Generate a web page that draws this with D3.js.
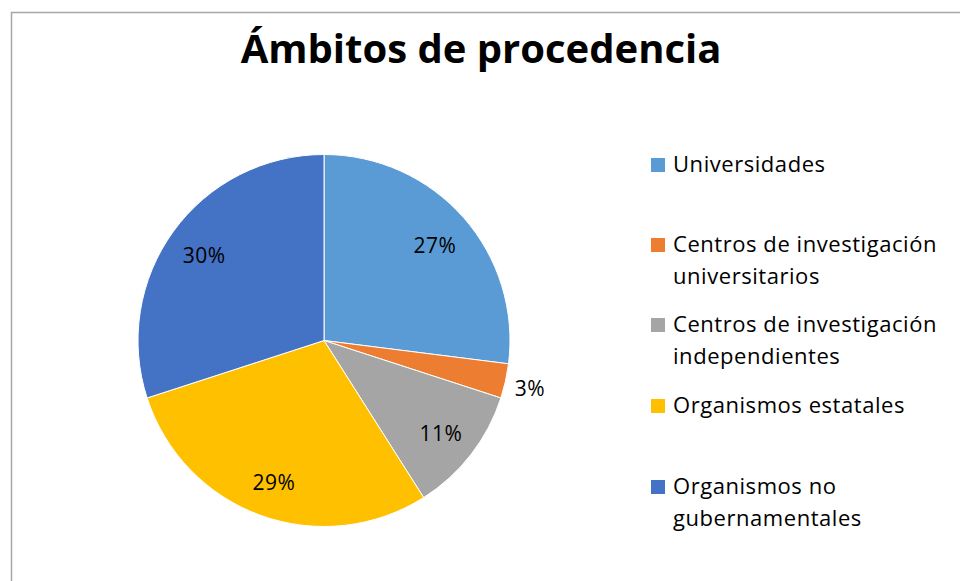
<!DOCTYPE html>
<html>
<head>
<meta charset="utf-8">
<script src="https://cdn.jsdelivr.net/npm/d3@7"></script>
<style>
  body { margin: 0; background: #fff; }
  text { font-family: "Open Sans", Lato, sans-serif; fill: #000; }
</style>
</head>
<body>
<div id="chart"></div>
<script>
// chart data
var categories = ["Universidades", "Centros de investigación universitarios",
  "Centros de investigación independientes", "Organismos estatales",
  "Organismos no gubernamentales"];
var values = [27, 3, 11, 29, 30];
var legendLines = [["Universidades"], ["Centros de investigación", "universitarios"],
  ["Centros de investigación", "independientes"], ["Organismos estatales"],
  ["Organismos no", "gubernamentales"]];
var colors = ["#5B9BD5", "#ED7D31", "#A5A5A5", "#FFC000", "#4472C4"];

var svgWidth = 960;
var svgHeight = 581;

var svg = d3.select("#chart")
  .append("svg")
  .attr("width", svgWidth)
  .attr("height", svgHeight);

// outer frame (cut off at right/bottom)
svg.append("rect")
  .attr("x", 11.5)
  .attr("y", 12.5)
  .attr("width", 1000)
  .attr("height", 700)
  .attr("fill", "none")
  .attr("stroke", "#a6a6a6")
  .attr("stroke-width", 1.5);

svg.append("text")
  .attr("x", 481)
  .attr("y", 63)
  .attr("text-anchor", "middle")
  .style("font-size", "40px")
  .style("font-weight", "bold")
  .text("Ámbitos de procedencia");

var radius = 186;
var pieGroup = svg.append("g")
  .attr("transform", "translate(324, 340.5)");

var pie = d3.pie().sort(null).value(d => d);
var arcs = pie(values);

var arc = d3.arc().innerRadius(0).outerRadius(radius);
var labelArc = d3.arc().innerRadius(148).outerRadius(148);
var outsideArc = d3.arc().innerRadius(211).outerRadius(211);

pieGroup.selectAll("path")
  .data(arcs)
  .enter()
  .append("path")
  .attr("d", arc)
  .attr("fill", (d, i) => colors[i])
  .attr("stroke", "#fff")
  .attr("stroke-width", 1);

pieGroup.selectAll("text.lbl")
  .data(arcs)
  .enter()
  .append("text")
  .attr("class", "lbl")
  .attr("transform", function(d) {
    var c = d.data < 5 ? outsideArc.centroid(d) : labelArc.centroid(d);
    return `translate(${c[0]}, ${c[1]})`;
  })
  .attr("text-anchor", "middle")
  .attr("dy", "0.47em")
  .style("font-size", "21px")
  .style("letter-spacing", "0.5px")
  .text(d => d.data + "%");

// legend
var legendY = [165, 245, 325, 406, 487];
var legend = svg.append("g");
legendLines.forEach(function(lines, i) {
  legend.append("rect")
    .attr("x", 651)
    .attr("y", legendY[i] - 7)
    .attr("width", 14)
    .attr("height", 14)
    .attr("fill", colors[i]);
  var t = legend.append("text")
    .attr("x", 673)
    .attr("y", legendY[i] + 7)
    .style("font-size", "22px")
    .style("letter-spacing", "0.55px");
  lines.forEach(function(line, j) {
    t.append("tspan")
      .attr("x", 673)
      .attr("dy", j === 0 ? 0 : 32)
      .text(line);
  });
});
</script>
</body>
</html>
